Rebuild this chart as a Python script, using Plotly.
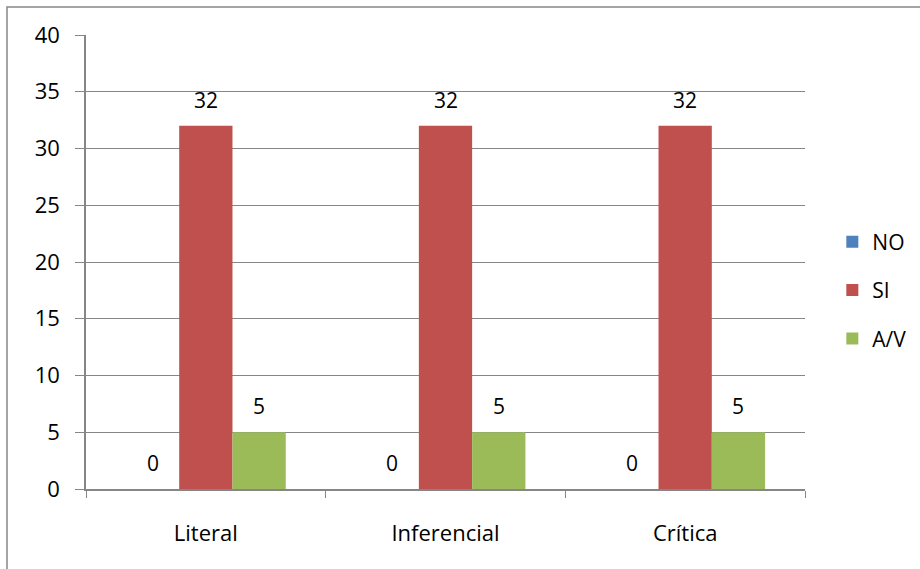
import plotly.graph_objects as go

categories = ["Literal", "Inferencial", "Crítica"]
series_names = ["NO", "SI", "A/V"]
no_values = [0, 0, 0]
si_values = [32, 32, 32]
av_values = [5, 5, 5]
colors = ["#4F81BD", "#C0504D", "#9BBB59"]

FONT = "'Open Sans', Lato, sans-serif"
FS_AX = 22
FS_LBL = 21
PLOT_W = 719
BARGAP = 0.333
bar_px = PLOT_W / len(categories) * (1 - BARGAP) / len(series_names)

fig = go.Figure()
annotations = []
for i, (name, vals, col) in enumerate(zip(series_names, [no_values, si_values, av_values], colors)):
    fig.add_trace(go.Bar(
        x=categories, y=vals, name=name, marker_color=col, marker_line_width=0,
        legendgroup=name,
    ))
    for c, v in zip(categories, vals):
        annotations.append(dict(
            x=c, y=v, xref="x", yref="y", text=str(v), showarrow=False,
            xanchor="center", yanchor="bottom", yshift=10,
            xshift=(i - 1) * bar_px,
            font=dict(family=FONT, size=FS_LBL, color="black"),
        ))

grid = "#868686"
fig.update_layout(
    width=920, height=569,
    margin=dict(l=86, r=115, t=35, b=80, autoexpand=False),
    paper_bgcolor="white", plot_bgcolor="white",
    barmode="group", bargap=BARGAP, bargroupgap=0,
    font=dict(family=FONT, size=FS_AX, color="black"),
    showlegend=True,
    legend=dict(x=1.038, y=0.438, xanchor="left", yanchor="middle",
                font=dict(family=FONT, size=21), tracegroupgap=18,
                itemwidth=30, bgcolor="rgba(0,0,0,0)"),
    annotations=annotations,
)
fig.update_yaxes(range=[0, 40], dtick=5, showgrid=True, gridcolor=grid, gridwidth=1.2,
                 showline=True, linecolor=grid, linewidth=1.5,
                 ticks="outside", ticklen=9, tickcolor=grid, tickwidth=1.2, zeroline=False,
                 tickfont=dict(family=FONT, size=FS_AX), ticklabelstandoff=11,
                 automargin=False)
fig.update_xaxes(showline=True, linecolor=grid, linewidth=2,
                 ticks="outside", tickson="boundaries", ticklen=7, tickcolor=grid,
                 tickfont=dict(family=FONT, size=FS_AX), ticklabelstandoff=24,
                 automargin=False)
fig.add_shape(type="rect", xref="paper", yref="paper",
              x0=(7 - 86) / 719, x1=(930 - 86) / 719,
              y0=(489 - 580) / 454, y1=(489 - 7) / 454,
              line=dict(color=grid, width=1.5), fillcolor="rgba(0,0,0,0)", layer="below")
fig.write_html("out.html", config={"displayModeBar": False},
               post_script="document.body.style.margin='0';document.body.style.overflow='hidden';")
